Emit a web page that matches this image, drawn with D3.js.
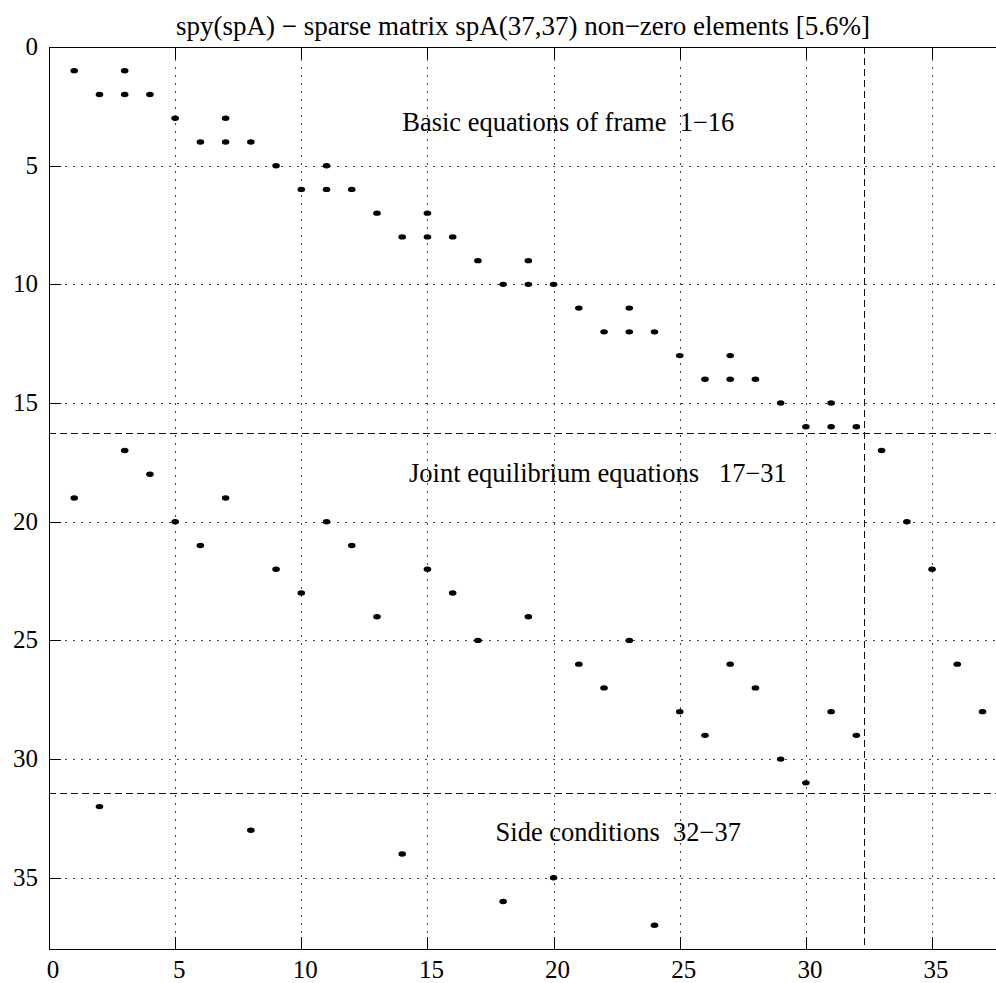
<!DOCTYPE html>
<html>
<head>
<meta charset="utf-8">
<script src="https://cdn.jsdelivr.net/npm/d3@7"></script>
<style>
  html, body { margin: 0; padding: 0; background: #fff; }
  svg { display: block; }
</style>
</head>
<body>
<svg id="chart" width="996" height="983"></svg>
<script>
// ---- data: non-zero entries of spA (row index, column index) ----
const rowIdx = [
  1,1, 2,2,2, 3,3, 4,4,4, 5,5, 6,6,6, 7,7, 8,8,8,
  9,9, 10,10,10, 11,11, 12,12,12, 13,13, 14,14,14, 15,15, 16,16,16,
  17,17, 18, 19,19, 20,20,20, 21,21, 22,22,22, 23,23, 24,24, 25,25,
  26,26,26, 27,27, 28,28,28, 29,29, 30, 31,
  32, 33, 34, 35, 36, 37
];
const colIdx = [
  1,3, 2,3,4, 5,7, 6,7,8, 9,11, 10,11,12, 13,15, 14,15,16,
  17,19, 18,19,20, 21,23, 22,23,24, 25,27, 26,27,28, 29,31, 30,31,32,
  3,33, 4, 1,7, 5,11,34, 6,12, 9,15,35, 10,16, 13,19, 17,23,
  21,27,36, 22,28, 25,31,37, 26,32, 29, 30,
  2, 8, 14, 20, 18, 24
];
const matrixSize = 37;
const xTicks = [0, 5, 10, 15, 20, 25, 30, 35];
const yTicks = [0, 5, 10, 15, 20, 25, 30, 35];
const rowSeparators = [16.26, 31.42];
const colSeparators = [32.3];
const blockLabels = ["Basic equations of frame  1\u221216",
                     "Joint equilibrium equations   17\u221231",
                     "Side conditions  32\u221237"];
const blockLabelX = [14.0, 14.27, 17.7];
const blockLabelY = [3.54, 18.32, 33.45];
const titleText = "spy(spA) \u2212 sparse matrix spA(37,37) non\u2212zero elements [5.6%]";

(function draw() {
  const FONT = "'Liberation Serif', 'Times New Roman', Times, 'Nimbus Roman', 'DejaVu Serif', serif";
  const svg = d3.select("#chart").attr("font-family", FONT);
  const padL = 49, padT = 47, padB = 949;
  const unitX = 25.23;
  const x = d3.scaleLinear().domain([0, matrixSize + 1]).range([padL, padL + unitX * (matrixSize + 1)]);
  const y = d3.scaleLinear().domain([0, matrixSize + 1]).range([padT, padB]);
  const x0 = x.range()[0], x1 = x.range()[1];
  const y0 = y.range()[0], y1 = y.range()[1];
  const tickLen = 12;
  const px = v => Math.round(v) + 0.5;

  // grid (dotted)
  const grid = svg.append("g").attr("stroke", "#444").attr("stroke-width", 1)
    .attr("stroke-dasharray", "2,6").attr("fill", "none");
  grid.selectAll("line.vx").data(xTicks.filter(d => d > 0)).join("line")
    .attr("x1", d => px(x(d))).attr("x2", d => px(x(d)))
    .attr("y1", y1).attr("y2", y0);
  grid.selectAll("line.hy").data(yTicks.filter(d => d > 0)).join("line")
    .attr("x1", x0).attr("x2", x1)
    .attr("y1", d => px(y(d))).attr("y2", d => px(y(d)));

  // separators (dashed)
  const sep = svg.append("g").attr("stroke", "#111").attr("stroke-width", 1)
    .attr("stroke-dasharray", "7,4").attr("fill", "none");
  sep.selectAll("line.r").data(rowSeparators).join("line")
    .attr("x1", x0).attr("x2", x1)
    .attr("y1", d => px(y(d))).attr("y2", d => px(y(d)));
  sep.selectAll("line.c").data(colSeparators).join("line")
    .attr("x1", d => px(x(d))).attr("x2", d => px(x(d)))
    .attr("y1", y0).attr("y2", y1);

  // frame (left, top, bottom; right side lies outside the picture)
  const frame = svg.append("g").attr("stroke", "#000").attr("stroke-width", 1).attr("fill", "none");
  frame.append("line").attr("x1", px(x0)).attr("x2", px(x0)).attr("y1", y0).attr("y2", y1);
  frame.append("line").attr("x1", x0).attr("x2", x1).attr("y1", px(y0)).attr("y2", px(y0));
  frame.append("line").attr("x1", x0).attr("x2", x1).attr("y1", px(y1)).attr("y2", px(y1));

  // ticks
  svg.append("g").attr("stroke", "#000").selectAll("line").data(xTicks).join("line")
    .attr("x1", d => px(x(d))).attr("x2", d => px(x(d)))
    .attr("y1", y1).attr("y2", y1 - tickLen);
  svg.append("g").attr("stroke", "#000").selectAll("line").data(xTicks).join("line")
    .attr("x1", d => px(x(d))).attr("x2", d => px(x(d)))
    .attr("y1", y0).attr("y2", y0 + tickLen);
  svg.append("g").attr("stroke", "#000").selectAll("line").data(yTicks).join("line")
    .attr("x1", x0).attr("x2", x0 + tickLen)
    .attr("y1", d => px(y(d))).attr("y2", d => px(y(d)));

  // tick labels
  svg.append("g").selectAll("text").data(xTicks).join("text")
    .attr("font-family", FONT)
    .attr("x", d => x(d) + 4).attr("y", y1 + 29)
    .attr("text-anchor", "middle").attr("font-size", 25).text(d => d);
  svg.append("g").selectAll("text").data(yTicks).join("text")
    .attr("font-family", FONT)
    .attr("x", x0 - 11).attr("y", d => y(d) + 8)
    .attr("text-anchor", "end").attr("font-size", 25).text(d => d);

  // non-zero markers
  svg.append("g").selectAll("ellipse").data(rowIdx.map((r, i) => [r, colIdx[i]])).join("ellipse")
    .attr("cx", d => x(d[1])).attr("cy", d => y(d[0]))
    .attr("rx", 3.8).attr("ry", 2.7).attr("fill", "#000");

  // block labels
  svg.append("g").selectAll("text").data(blockLabels).join("text")
    .attr("font-family", FONT)
    .attr("x", (d, i) => x(blockLabelX[i])).attr("y", (d, i) => y(blockLabelY[i]))
    .attr("font-size", 26.5).style("white-space", "pre").text(d => d);

  // title
  svg.append("text").attr("font-family", FONT)
    .attr("x", 523).attr("y", 35).attr("text-anchor", "middle")
    .attr("font-size", 27).text(titleText);
})();
</script>
</body>
</html>
